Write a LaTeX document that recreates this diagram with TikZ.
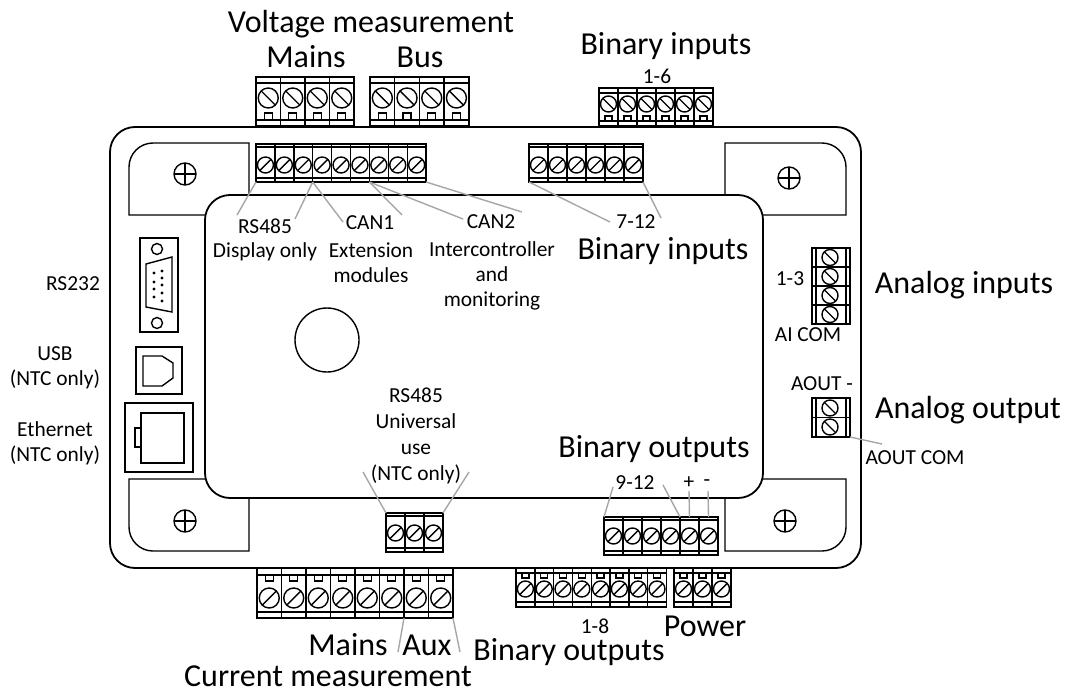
\documentclass[tikz,border=0pt]{standalone}
\usepackage{fontspec}
\setmainfont{Carlito}
\tikzset{
  device/.style={line width=1.8pt, draw=black, fill=white, rounded corners=25},
  plate/.style={line width=1.4pt, draw=black},
  pin/.style={line width=1.4pt, draw=black},
  leader/.style={line width=1.4pt, draw=black!35},
  biglabel/.style={font=\fontsize{32}{36}\selectfont, align=center, inner sep=0pt},
  smalllabel/.style={font=\fontsize{21.4}{25}\selectfont, align=center, inner sep=0pt},
}
\newcommand{\screwr}{8}
\newcommand{\screws}{1}
\newcommand{\screwhead}[2]{%
  \draw[pin] (#1,#2) circle (\screwr);
  \draw[pin] ({#1-\screwr*0.72},{#2+\screws*\screwr*0.72}) -- ({#1+\screwr*0.72},{#2-\screws*\screwr*0.72});
}
% name, left, top, poles, pitch, height, first band, last band, screw y
\newcommand{\hblock}[9]{%
  \draw[pin] (#2,#3) rectangle ({#2+#4*#5},{#3+#6});
  \draw[pin] (#2,{#3+#7}) -- ++({#4*#5},0);
  \draw[pin] (#2,{#3+#8}) -- ++({#4*#5},0);
  \foreach \p in {0,...,#4} {
    \coordinate (#1-t\p) at ({#2+\p*#5},#3);
    \coordinate (#1-b\p) at ({#2+\p*#5},{#3+#6});
    \draw[pin] (#1-t\p) -- (#1-b\p);
  }
  \foreach \p in {1,...,#4} {
    \pgfmathsetmacro{\cx}{#2+(\p-0.5)*#5}
    \pgfmathsetmacro{\cy}{#3+#9}
    \screwhead{\cx}{\cy}
  }
}
% left, pitch, poles, top, width, height
\newcommand{\notches}[6]{%
  \foreach \p in {1,...,#3} {
    \pgfmathsetmacro{\cx}{#1+(\p-0.5)*#2}
    \draw[pin] ({\cx-#5/2},#4) rectangle ({\cx+#5/2},{#4+#6});
  }
}
\begin{document}
\begin{tikzpicture}[x=1pt,y=-1pt]
\useasboundingbox (0,0) rectangle (1065,693);

% housing
\draw[device] (110,127) rectangle (861,568);
\draw[plate] (249,215) -- (129,215) [rounded corners=24] -- (129,143) [sharp corners] -- (249,143) -- cycle;
\draw[plate] (725,215) -- (725,143) [rounded corners=24] -- (846,143) [sharp corners] -- (846,215) -- cycle;
\draw[plate] (249,479) -- (129,479) [rounded corners=24] -- (129,551) [sharp corners] -- (249,551) -- cycle;
\draw[plate] (725,479) -- (846,479) [rounded corners=24] -- (846,551) [sharp corners] -- (725,551) -- cycle;
\draw[device] (205,195) rectangle (763,498);

% mounting screws
\foreach \mx/\my in {185/174,789/178,185/521,785/521} {
  \draw[pin] (\mx,\my) circle (11);
  \draw[pin] (\mx-11,\my) -- (\mx+11,\my);
  \draw[pin] (\mx,\my-11) -- (\mx,\my+11);
}
\draw[pin] (327,340) circle (32);

% ports
\draw[pin] (140,238) rectangle (178,332);
\draw[pin] (146,264) -- (172,257) -- (172,312) -- (146,307) -- cycle;
\draw[pin] (157,249) circle (5.5);
\draw[pin] (157,323) circle (5.5);
\foreach \dx/\dy in {154/273,154/282,154/289,154/297,162/271,162/278,162/285,162/293,162/301} {
  \fill (\dx,\dy) circle (1.6);
}
\draw[pin] (136,347) rectangle (182,394);
\draw[pin] (143,356) -- (162,356) -- (173,363) -- (173,378) -- (162,386) -- (143,386) -- cycle;
\draw[pin] (125,403) rectangle (193,472);
\draw[pin] (141,413) rectangle (184,463);
\draw[pin] (141,428) -- (135,428) -- (135,447) -- (141,447);

% terminal blocks
\renewcommand{\screwr}{10}\renewcommand{\screws}{-1}
\hblock{mainsV}{256}{77}{4}{24.5}{49}{6}{43}{21}
\notches{256}{24.5}{4}{113}{8}{7}
\hblock{busV}{370}{77}{4}{24.7}{49}{6}{43}{21}
\notches{370}{24.7}{4}{113}{8}{7}
\renewcommand{\screwr}{8}
\hblock{binA}{599}{88}{6}{19}{38}{5}{33}{16}
\notches{599}{19}{6}{116}{7}{5}
\renewcommand{\screws}{1}
\hblock{comm}{256}{144}{9}{18.9}{38}{3}{34}{21}
\hblock{binB}{529}{144}{6}{19}{38}{3}{34}{21}
\hblock{univ}{386}{513}{3}{19}{39}{3}{35}{20}
\hblock{binC}{604}{517}{6}{19}{38}{3}{34}{19}
\hblock{binD}{516}{568}{8}{18.8}{39}{5}{34}{21}
\notches{516}{18.8}{8}{573}{7}{5}
\hblock{power}{674}{568}{3}{19}{39}{5}{34}{21}
\notches{674}{19}{3}{573}{7}{5}
\renewcommand{\screwr}{10}
\hblock{current}{257}{568}{8}{24.5}{50}{7}{44}{30}
\notches{257}{24.5}{8}{575}{8}{6}

% vertical blocks
\draw[pin] (812,248) rectangle (850,324);
\draw[pin] (816,248) -- (816,324);
\draw[pin] (846,248) -- (846,324);
\foreach \ty in {267,286,305} {\draw[pin] (812,\ty) -- (850,\ty);}
\foreach \ty in {257.5,276.5,295.5,314.5} {
  \draw[pin] (830,\ty) circle (8);
  \draw[pin] (824.5,\ty-5.5) -- (835.5,\ty+5.5);
}
\coordinate (aout-corner) at (850,437);
\draw[pin] (812,398) rectangle (aout-corner);
\draw[pin] (816,398) -- (816,437);
\draw[pin] (846,398) -- (846,437);
\draw[pin] (812,417.5) -- (850,417.5);
\foreach \ty in {408,427} {
  \draw[pin] (830,\ty) circle (8);
  \draw[pin] (824.5,\ty-5.5) -- (835.5,\ty+5.5);
}

% labels
\node[biglabel] (voltage) at (371,24) {Voltage measurement};
\node[biglabel] (mainsVlab) at (306,57) {Mains};
\node[biglabel] (busVlab) at (420,57) {Bus};
\node[biglabel] (binAtitle) at (666,46) {Binary inputs};
\node[smalllabel] (binArange) at (657,76) {1-6};
\node[smalllabel] (rsA) at (265,226) {RS485};
\node[smalllabel] (rsAb) at (265,252) {Display only};
\node[smalllabel] (canA) at (370,223) {CAN1};
\node[smalllabel,anchor=north] (canAb) at (371,243) {Extension\\modules};
\node[smalllabel] (canB) at (491,222) {CAN2};
\node[smalllabel,anchor=north] (canBb) at (492,241) {Intercontroller\\and\\monitoring};
\node[smalllabel] (binBrange) at (636,222) {7-12};
\node[biglabel] (binBtitle) at (663,251) {Binary inputs};
\node[biglabel] (ainT) at (964,285) {Analog inputs};
\node[smalllabel] (ainR) at (790,279) {1-3};
\node[smalllabel] (ainC) at (808,335) {AI COM};
\node[smalllabel] (aoutM) at (822,384) {AOUT -};
\node[biglabel] (aoutT) at (968,410) {Analog output};
\node[smalllabel] (aoutC) at (915,458) {AOUT COM};
\node[smalllabel] (rsPort) at (73,284) {RS232};
\node[smalllabel] (usbPort) at (55,368) {USB\\(NTC only)};
\node[smalllabel] (ethPort) at (55,443) {Ethernet\\(NTC only)};
\node[smalllabel,anchor=north] (rsB) at (416,388) {RS485\\[1pt]Universal\\[1pt]use\\[1pt](NTC only)};
\node[biglabel] (binCtitle) at (654,449) {Binary outputs};
\node[smalllabel] (binCrange) at (635,483) {9-12};
\node[smalllabel] (plus) at (689,483) {+};
\node[smalllabel] (minus) at (707,483) {-};
\node[biglabel] (mainsI) at (348,645) {Mains};
\node[biglabel] (auxI) at (427,645) {Aux};
\node[biglabel] (current) at (328,676) {Current measurement};
\node[smalllabel] (binDrange) at (595,626) {1-8};
\node[biglabel] (powerT) at (705,626) {Power};
\node[biglabel] (binDtitle) at (569,652) {Binary outputs};

% leaders
\coordinate (rsA-end) at (237,215);
\coordinate (displayA-end) at (295,219);
\coordinate (canA-end) at (343,222);
\coordinate (extA-end) at (402,215);
\coordinate (canB-end) at (463,219);
\coordinate (intB-end) at (522,212);
\coordinate (binBl-end) at (610,222);
\coordinate (binBr-end) at (661,218);
\coordinate (univl-end) at (363,472);
\coordinate (univr-end) at (469,472);
\coordinate (binCl-end) at (613,487);
\coordinate (binCr-end) at (663,485);
\coordinate (plus-end) at (689,491);
\coordinate (minus-end) at (708,491);
\coordinate (aoutC-end) at (882,444);
\coordinate (auxl-end) at (398,652);
\coordinate (auxr-end) at (460,652);
\draw[leader] (comm-b0) -- (rsA-end);
\draw[leader] (comm-b3) -- (displayA-end);
\draw[leader] (comm-b3) -- (canA-end);
\draw[leader] (comm-b6) -- (extA-end);
\draw[leader] (comm-b6) -- (canB-end);
\draw[leader] (comm-b9) -- (intB-end);
\draw[leader] (binB-b0) -- (binBl-end);
\draw[leader] (binB-b6) -- (binBr-end);
\draw[leader] (univ-t0) -- (univl-end);
\draw[leader] (univ-t3) -- (univr-end);
\draw[leader] (binC-t0) -- (binCl-end);
\draw[leader] (binC-t4) -- (binCr-end);
\draw[leader] (binC-t5) ++(-9.5,0) -- (plus-end);
\draw[leader] (binC-t6) ++(-9.5,0) -- (minus-end);
\draw[leader] (aout-corner) -- (aoutC-end);
\draw[leader] (current-b6) -- (auxl-end);
\draw[leader] (current-b8) -- (auxr-end);
\end{tikzpicture}
\end{document}
